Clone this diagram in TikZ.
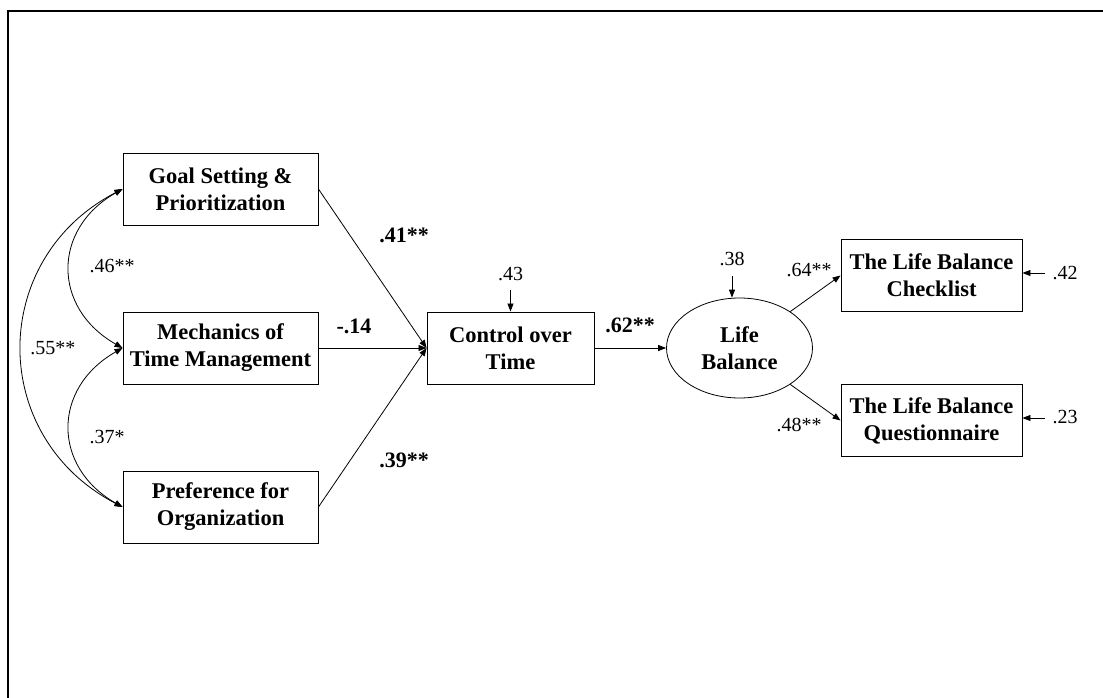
\documentclass[tikz,border=0pt]{standalone}
\usepackage{fontspec}
\setmainfont{Liberation Serif}
\usetikzlibrary{arrows.meta,shapes.geometric}
\begin{document}
\begin{tikzpicture}[x=1pt,y=-1pt,
  box/.style={draw,line width=0.9pt,minimum width=195pt,minimum height=72pt,inner sep=0pt,align=center,font=\fontsize{22.5}{27}\selectfont\bfseries},
  ell/.style={draw,ellipse,line width=0.8pt,minimum width=146pt,minimum height=100pt,inner sep=0pt,align=center,font=\fontsize{22.5}{27}\selectfont\bfseries},
  lab/.style={inner sep=0pt,font=\fontsize{20}{24}\selectfont},
  blab/.style={inner sep=0pt,font=\fontsize{22}{26}\selectfont\bfseries},
  conn/.style={line width=0.8pt,-{Triangle[length=8pt,width=6pt]}},
  cov/.style={line width=0.8pt,{Triangle[length=8pt,width=6pt]}-{Triangle[length=8pt,width=6pt]}},
]
\useasboundingbox (0,0) rectangle (1103,698);
\draw[line width=2.2pt] (1103,11) -- (8,11) -- (8,698);

% nodes
\node[box] (goal) at (220.5,189) {Goal Setting \&\\Prioritization};
\node[box] (mech) at (220.5,348) {Mechanics of\\Time Management};
\node[box] (pref) at (220.5,507) {Preference for\\Organization};
\node[box,minimum width=167pt] (ctrl) at (510.5,348) {Control over\\Time};
\node[ell] (lb) at (739.5,348) {Life\\Balance};
\node[box,minimum width=181pt] (chk) at (931.5,275.5) {The Life Balance\\Checklist};
\node[box,minimum width=181pt] (qst) at (931.5,420.5) {The Life Balance\\Questionnaire};

% paths
\draw[conn] (goal.east) -- (ctrl.west);
\draw[conn] (mech.east) -- (ctrl.west);
\draw[conn] (pref.east) -- (ctrl.west);
\draw[conn] (ctrl) -- (lb);
\draw[conn] (lb) -- (chk.west);
\draw[conn] (lb) -- (qst.west);

% error terms
\coordinate (e1) at (510.5,290);
\coordinate (e2) at (732,276);
\coordinate (e3) at (1045,273);
\coordinate (e4) at (1045,418);
\draw[conn] (e1) -- (ctrl.north);
\draw[conn] (e2) -- (e2 |- lb.north);
\draw[conn] (e3) -- (e3 -| chk.east);
\draw[conn] (e4) -- (e4 -| qst.east);

% covariances
\draw[cov] (goal.west) .. controls (52,229) and (52,308) .. (mech.west);
\draw[cov] (mech.west) .. controls (52,388) and (52,467) .. (pref.west);
\draw[cov] (goal.west) .. controls (-12,259) and (-12,437) .. (pref.west);

% labels
\node[blab] (l41) at (404,235) {.41**};
\node[blab] (l14) at (354,326) {-.14};
\node[blab] (l39) at (404,460) {.39**};
\node[blab] (l62) at (630,325) {.62**};
\node[lab] (l46) at (112,266) {.46**};
\node[lab] (l37) at (107,437) {.37*};
\node[lab] (l55) at (53,348) {.55**};
\node[lab] (l43) at (510.5,274) {.43};
\node[lab] (l38) at (732,258.5) {.38};
\node[lab] (l64) at (809,270) {.64**};
\node[lab] (l48) at (799,425) {.48**};
\node[lab] (l42) at (1065,273) {.42};
\node[lab] (l23) at (1065,417) {.23};
\end{tikzpicture}
\end{document}
